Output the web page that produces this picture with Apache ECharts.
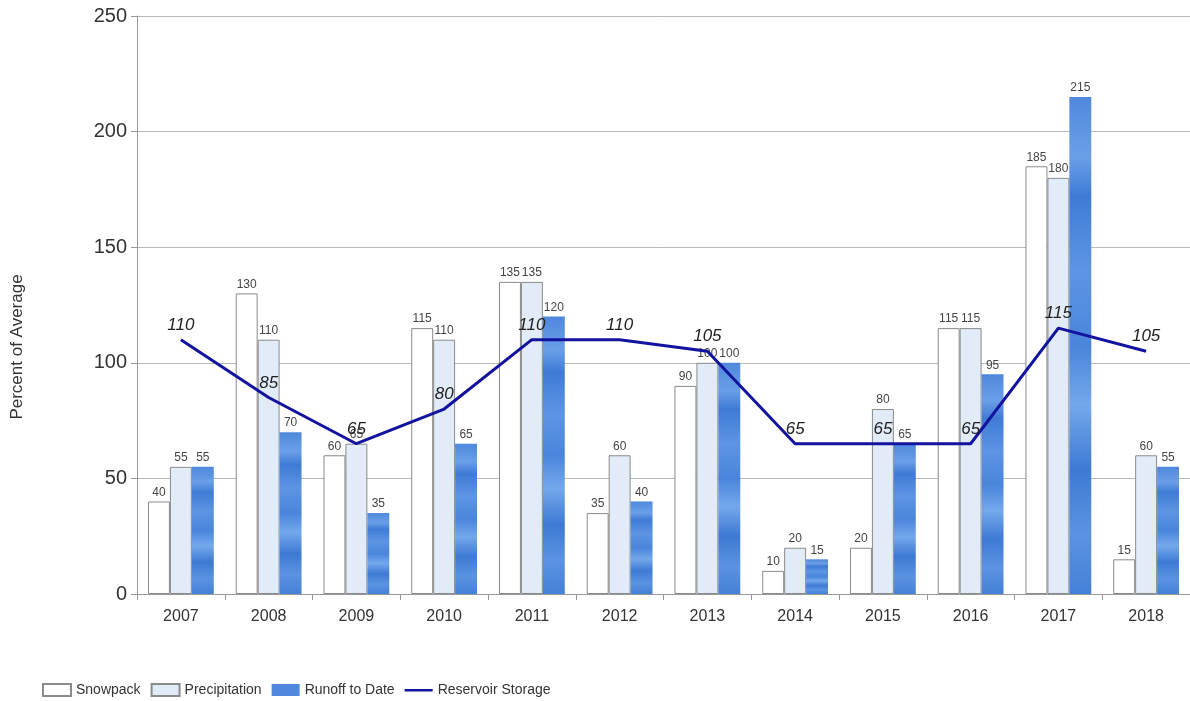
<!DOCTYPE html>
<html><head><meta charset="utf-8">
<script src="https://cdn.jsdelivr.net/npm/echarts@6/dist/echarts.min.js"></script>
<style>html,body{margin:0;padding:0;background:#fff}#c{width:1190px;height:701px}</style>
</head><body><div id="c"></div>
<script>
const years = ['2007','2008','2009','2010','2011','2012','2013','2014','2015','2016','2017','2018'];
const snowpack = [40,130,60,115,135,35,90,10,20,115,185,15];
const precipitation = [55,110,65,110,135,60,100,20,80,115,180,60];
const runoff = [55,70,35,65,120,40,100,15,65,95,215,55];
const reservoir = [110,85,65,80,110,110,105,65,65,65,115,105];

const chart = echarts.init(document.getElementById('c'));
const runoffFill = {
  type:'linear', x:0, y:0, x2:0, y2:1,
  colorStops:[
    {offset:0,color:'#4f88dc'},{offset:0.12,color:'#6a9fe8'},{offset:0.2,color:'#3f7bd6'},
    {offset:0.35,color:'#5d95e4'},{offset:0.5,color:'#4a85dc'},{offset:0.62,color:'#74a8ec'},
    {offset:0.75,color:'#3e7ad4'},{offset:0.88,color:'#5b93e2'},{offset:1,color:'#4580d8'}
  ]
};
const lbl = {show:true, position:'top', fontSize:12, color:'#444', distance:3, fontFamily:'Liberation Sans'};
chart.setOption({
  animation:false,
  textStyle:{fontFamily:'Liberation Sans'},
  grid:{left:137, right:0, top:16, bottom:107},
  legend:{
    bottom:-1, left:37, itemWidth:28, itemHeight:12, itemGap:10,
    textStyle:{fontSize:14, color:'#333'},
    data:[
      {name:'Snowpack', icon:'rect'},
      {name:'Precipitation', icon:'rect'},
      {name:'Runoff to Date', icon:'rect', itemStyle:{color:'#4f88dc'}},
      {name:'Reservoir Storage', icon:'path://M0,0h0.01v0.01h-0.01z M0,5h30v2.5h-30z M0,12h0.01v0.01h-0.01z'}
    ]
  },
  graphic:[{type:'text', x:17, y:347, rotation:Math.PI/2,
    style:{text:'Percent of Average', fontSize:17, fill:'#333', fontFamily:'Liberation Sans', align:'center', verticalAlign:'middle'}}],
  xAxis:{
    type:'category', data:years,
    axisLine:{lineStyle:{color:'#999'}},
    axisTick:{show:true, length:6, lineStyle:{color:'#999'}},
    axisLabel:{fontSize:16, color:'#333', margin:15}
  },
  yAxis:{
    type:'value', min:0, max:250, interval:50,
    axisLine:{show:true, lineStyle:{color:'#999'}},
    axisTick:{show:true, length:6, lineStyle:{color:'#999'}},
    splitLine:{lineStyle:{color:'#b8b8b8'}},
    axisLabel:{fontSize:20, color:'#333', margin:10}
  },
  series:[
    {name:'Snowpack', type:'bar', data:snowpack, barGap:'0%', barCategoryGap:'25%',
     itemStyle:{color:'#ffffff', borderColor:'#8a8a8a', borderWidth:1}, label:lbl},
    {name:'Precipitation', type:'bar', data:precipitation,
     itemStyle:{color:'#e2ebf8', borderColor:'#8a8a8a', borderWidth:1}, label:lbl},
    {name:'Runoff to Date', type:'bar', data:runoff,
     itemStyle:{color:runoffFill}, label:lbl},
    {name:'Reservoir Storage', type:'line', data:reservoir, symbol:'circle', symbolSize:0, showSymbol:true,
     lineStyle:{color:'#12139e', width:3}, itemStyle:{color:'#12139e'},
     label:{show:true, position:'top', fontSize:17, fontStyle:'italic', color:'#222', distance:6}}
  ]
});
</script></body></html>
